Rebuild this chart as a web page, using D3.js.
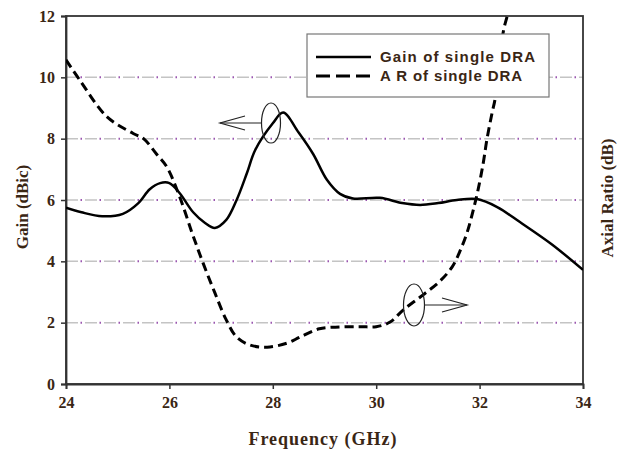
<!DOCTYPE html>
<html><head><meta charset="utf-8">
<script src="https://cdn.jsdelivr.net/npm/d3@7"></script>
<style>body{margin:0;background:#fff}svg{display:block}</style>
</head><body>
<svg id="c" width="622" height="455"></svg>
<script>
const xTicks = [24, 26, 28, 30, 32, 34];
const yTicks = [0, 2, 4, 6, 8, 10, 12];
const gridValues = [2, 4, 6, 8, 10];
const gainFreq = [24.0,24.3,24.7,25.1,25.4,25.62,25.82,26.0,26.2,26.46,26.69,26.88,27.1,27.3,27.5,27.66,28.0,28.2,28.5,28.78,29.05,29.3,29.55,30.07,30.5,30.85,31.2,31.56,31.95,32.34,32.78,33.4,34.0];
const gainVal  = [5.75,5.6,5.47,5.55,5.9,6.35,6.55,6.55,6.22,5.6,5.25,5.09,5.35,6.0,6.88,7.63,8.5,8.85,8.2,7.5,6.65,6.2,6.05,6.07,5.9,5.84,5.9,6.0,6.03,5.77,5.28,4.55,3.72];
const arFreq = [24.0,24.27,24.8,25.3,25.5,25.75,25.95,26.2,26.44,26.65,26.88,27.1,27.3,27.56,27.89,28.27,28.53,28.9,29.3,29.7,30.0,30.27,30.52,30.9,31.23,31.47,31.62,31.76,31.87,31.97,32.07,32.14,32.24,32.3,32.46,32.53,32.6];
const arVal  = [10.57,9.9,8.7,8.17,8.0,7.5,7.08,6.1,4.92,3.95,2.97,2.09,1.53,1.27,1.2,1.33,1.53,1.8,1.86,1.87,1.87,2.02,2.41,2.9,3.35,3.82,4.33,4.95,5.62,6.33,7.2,7.96,8.83,9.3,11.5,11.97,12.4];
const legendLabels = ["Gain of single DRA", "A R of single DRA"];

const svg = d3.select("#c");
const L = 66, R = 583, T = 16, B = 384;
const x = d3.scaleLinear().domain([24, 34]).range([L, R]);
const y = d3.scaleLinear().domain([0, 12]).range([B, T]);
const txtCol = "#3a2614";

svg.append("defs").append("clipPath").attr("id","clip")
  .append("rect").attr("x",L).attr("y",T).attr("width",R-L).attr("height",B-T);

// grid
gridValues.forEach(v => {
  svg.append("line").attr("x1",L).attr("x2",R).attr("y1",y(v)).attr("y2",y(v))
    .attr("stroke","#c4c4c4").attr("stroke-width",1.5).attr("stroke-dasharray","12,7");
  svg.append("line").attr("x1",L+14.5).attr("x2",R).attr("y1",y(v)).attr("y2",y(v))
    .attr("stroke","#9a55b0").attr("stroke-width",2).attr("stroke-dasharray","1.5,17.5");
});

// frame
svg.append("rect").attr("x",L).attr("y",T).attr("width",R-L).attr("height",B-T)
  .attr("fill","none").attr("stroke","#333").attr("stroke-width",1.8);

// axes
const xa = svg.append("g").attr("transform",`translate(0,${B})`)
  .call(d3.axisBottom(x).tickValues(xTicks).tickSize(5).tickPadding(8));
const ya = svg.append("g").attr("transform",`translate(${L},0)`)
  .call(d3.axisLeft(y).tickValues(yTicks).tickSize(5).tickPadding(6));
[xa, ya].forEach(a => {
  a.select(".domain").attr("stroke","#333").attr("stroke-width",1.8);
  a.selectAll(".tick line").attr("stroke","#333").attr("stroke-width",1.5);
  a.selectAll("text").attr("font-family","'Liberation Serif', serif").attr("font-weight","bold")
    .attr("font-size",16).attr("fill",txtCol);
});

// lines
const line = d3.line().x(d => x(d[0])).y(d => y(d[1])).curve(d3.curveCatmullRom.alpha(0.5));
const g = svg.append("g").attr("clip-path","url(#clip)");
g.append("path").attr("d", line(d3.zip(arFreq, arVal))).attr("fill","none")
  .attr("stroke","#000").attr("stroke-width",3).attr("stroke-dasharray","9,5");
g.append("path").attr("d", line(d3.zip(gainFreq, gainVal))).attr("fill","none")
  .attr("stroke","#000").attr("stroke-width",2.5);

// annotations
function annot(cx, cy, rx, ry, x0, x1) {
  svg.append("ellipse").attr("cx",cx).attr("cy",cy).attr("rx",rx).attr("ry",ry)
    .attr("fill","none").attr("stroke","#222").attr("stroke-width",1.2);
  const dir = Math.sign(x1 - x0);
  svg.append("line").attr("x1",x0).attr("x2",x1).attr("y1",cy).attr("y2",cy).attr("stroke","#222").attr("stroke-width",1.2);
  svg.append("path").attr("d",`M${x1-dir*25},${cy-7}L${x1},${cy}L${x1-dir*25},${cy+7}`)
    .attr("fill","none").attr("stroke","#222").attr("stroke-width",1.2);
}
annot(271, 123, 9.5, 20, 262, 220);
annot(414, 305, 10.5, 21, 425, 467);

// legend
const lg = svg.append("g");
lg.append("rect").attr("x",307).attr("y",34).attr("width",242).attr("height",63)
  .attr("fill","#fff").attr("stroke","#777").attr("stroke-width",1.2);
lg.append("line").attr("x1",316).attr("x2",371).attr("y1",57).attr("y2",57).attr("stroke","#000").attr("stroke-width",2.5);
lg.append("line").attr("x1",316).attr("x2",371).attr("y1",76).attr("y2",76).attr("stroke","#000").attr("stroke-width",3).attr("stroke-dasharray","14,6");
legendLabels.forEach((t,i) => {
  lg.append("text").attr("x",380).attr("y",62+i*19).text(t)
    .attr("font-family","'Liberation Sans', Arial, sans-serif").attr("font-weight","bold")
    .attr("font-size",15).attr("fill",txtCol).attr("textLength", i===0?155:142);
});

// titles
svg.append("text").attr("x",323).attr("y",445).attr("text-anchor","middle").text("Frequency (GHz)")
  .attr("font-family","'Liberation Serif', serif").attr("font-weight","bold").attr("font-size",18).attr("fill",txtCol).attr("letter-spacing",1);
svg.append("text").attr("transform","translate(28,207) rotate(-90)").attr("text-anchor","middle").text("Gain (dBic)")
  .attr("font-family","'Liberation Serif', serif").attr("font-weight","bold").attr("font-size",17).attr("fill",txtCol);
svg.append("text").attr("transform","translate(613,198) rotate(-90)").attr("text-anchor","middle").text("Axial Ratio (dB)")
  .attr("font-family","'Liberation Serif', serif").attr("font-weight","bold").attr("font-size",17).attr("fill",txtCol);
</script>
</body></html>
